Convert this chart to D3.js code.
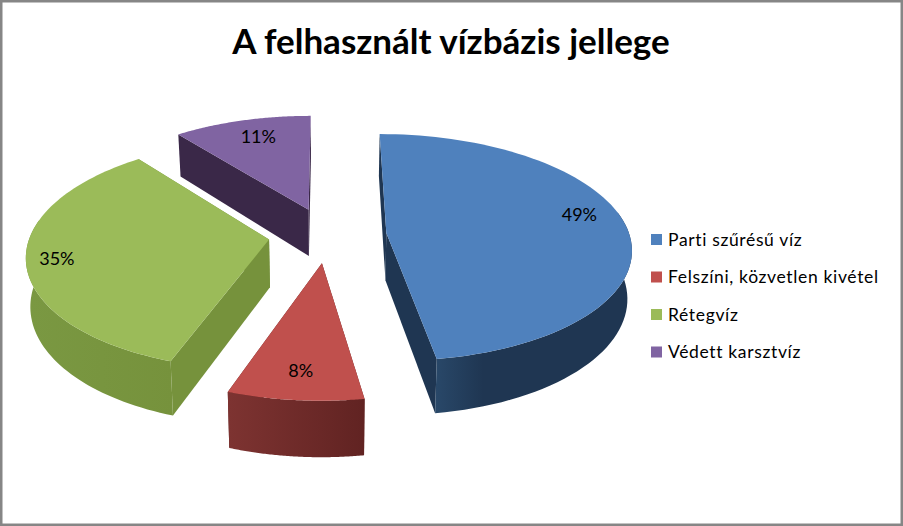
<!DOCTYPE html>
<html><head><meta charset="utf-8">
<script src="https://cdnjs.cloudflare.com/ajax/libs/d3/7.8.5/d3.min.js"></script>
<style>html,body{margin:0;padding:0;background:#fff}svg{display:block}text{font-family:Lato,Carlito,sans-serif;fill:#000}</style>
</head><body><svg id="c" width="903" height="526"></svg>
<script>
const title = "A felhasznált vízbázis jellege";
const categories = ["Parti szűrésű víz","Felszíni, közvetlen kivétel","Rétegvíz","Védett karsztvíz"];
const values = [49,8,35,11];
const labels = ["49%","8%","35%","11%"];
const colors = ["#4f81bd","#c0504d","#9bbb59","#8064a2"];
const radialWall = ["#1f3652","#612322","#76923c","#3a2848"];
const wallLeft = ["#294869","#7d3331","#7a9842","#3a2848"];
const wallRight = ["#1f3652","#612322","#76923c","#3a2848"];
const wallFade = [0.25,1,1,1];

const W=903,H=526;
const cx=327.5,cy=235,Rx=241,Ry=112,p=0.128,q=0.006,depth=47.5,explode=0.245;
const labelR=[0.835,0.81,0.875,0.80], labelTurn=[-7,0,-1.5,1.5];
const svg=d3.select("#c");
const defs=svg.append("defs");
svg.append("rect").attr("x",1.25).attr("y",1.25).attr("width",W-2.5).attr("height",H-2.5)
  .attr("fill","#fff").attr("stroke","#868686").attr("stroke-width",2.5);

function proj(u,v,bottom){
  const s=1/(1+p*v);
  let x=cx+Rx*u*s*(1+q*u), y=cy-Ry*v*s;
  if(bottom){x=cx+(x-cx)*0.985; y+=depth*s;}
  return [x,y];
}
const arcs=d3.pie().sort(null)(values);
const line=d3.line();
arcs.forEach((a,i)=>{
  const mid=(a.startAngle+a.endAngle)/2;
  const ou=explode*Math.sin(mid), ov=explode*Math.cos(mid);
  const thetas=d3.range(0,81).map(k=>a.startAngle+(a.endAngle-a.startAngle)*k/80);
  const rim=thetas.map(t=>[ou+Math.sin(t),ov+Math.cos(t),t]);
  const apex=[ou,ov];
  const g=svg.append("g");
  const rimTop=rim.map(d=>proj(d[0],d[1]));
  // radial walls first, the front part of the outer wall over them
  [rim[0],rim[80]].sort((A,B)=>B[1]-A[1]).forEach(A=>{
    const P=[proj(apex[0],apex[1]),proj(A[0],A[1]),proj(A[0],A[1],true),proj(apex[0],apex[1],true)];
    g.append("path").attr("d",line(P)+"Z").attr("fill",radialWall[i]);
  });
  const frontRim=rim.filter(d=>Math.cos(d[2])<0.2);
  if(frontRim.length>1 && i!==3){
    const ft=frontRim.map(d=>proj(d[0],d[1]));
    const fb=frontRim.map(d=>proj(d[0],d[1],true));
    const [x0,x1]=d3.extent(fb,d=>d[0]);
    const grad=defs.append("linearGradient").attr("id","w"+i).attr("gradientUnits","userSpaceOnUse")
      .attr("x1",x0).attr("x2",x1).attr("y1",0).attr("y2",0);
    grad.append("stop").attr("offset",0).attr("stop-color",wallLeft[i]);
    grad.append("stop").attr("offset",wallFade[i]).attr("stop-color",wallRight[i]);
    g.append("path").attr("d",line([...ft,...fb.slice().reverse()])+"Z").attr("fill",`url(#w${i})`);
  }
  g.append("path").attr("d",line([proj(apex[0],apex[1]),...rimTop])+"Z").attr("fill",colors[i]);
});
arcs.forEach((a,i)=>{
  const mid=(a.startAngle+a.endAngle)/2;
  const ou=explode*Math.sin(mid), ov=explode*Math.cos(mid);
  const t=mid+labelTurn[i]*Math.PI/180;
  const [x,y]=proj(ou+labelR[i]*Math.sin(t),ov+labelR[i]*Math.cos(t));
  svg.append("text").attr("x",x).attr("y",y).attr("dy","0.35em").attr("text-anchor","middle")
    .attr("font-size",18).text(labels[i]);
});
svg.append("text").attr("x",451).attr("y",54).attr("text-anchor","middle")
  .attr("font-size",35).attr("font-weight",700).text(title);
const ly=d3.scalePoint().domain(categories).range([239.5,352]);
categories.forEach((c,i)=>{
  svg.append("rect").attr("x",651).attr("y",ly(c)-5.5).attr("width",11).attr("height",11).attr("fill",colors[i]);
  svg.append("text").attr("x",668).attr("y",ly(c)).attr("dy","0.35em").attr("font-size",17.5).attr("letter-spacing",0.65).text(c);
});
</script></body></html>
